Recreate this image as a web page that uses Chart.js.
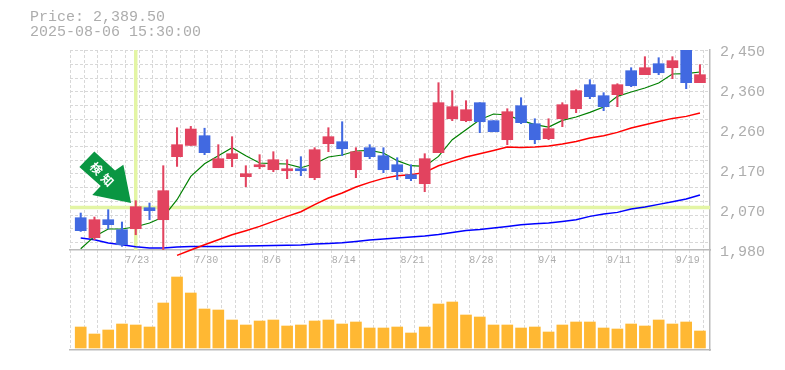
<!DOCTYPE html>
<html lang="ja">
<head>
<meta charset="utf-8">
<title>Price chart</title>
<script src="https://cdn.jsdelivr.net/npm/chart.js@4/dist/chart.umd.min.js"></script>
<style>
    html, body { margin: 0; padding: 0; background: #fff; }
    #wrap { position: relative; width: 785px; height: 370px; overflow: hidden; }
    #wrap canvas { position: absolute; left: 0; top: 0; }
    #info {
        position: absolute; left: 30px; top: 10px;
        font: 15px/15px 'Liberation Mono', monospace;
        color: #adadad; white-space: pre;
    }
</style>
</head>
<body>
<div id="wrap">
    <canvas id="chart-volume" width="785" height="360"></canvas>
    <canvas id="chart-price" width="785" height="280"></canvas>
    <div id="info">Price: 2,389.50
2025-08-06 15:30:00</div>
</div>
<script>
const dates = ['7/16', '7/17', '7/18', '7/22', '7/23', '7/24', '7/25', '7/28', '7/29', '7/30',
    '7/31', '8/1', '8/4', '8/5', '8/6', '8/7', '8/8', '8/12', '8/13', '8/14',
    '8/15', '8/18', '8/19', '8/20', '8/21', '8/22', '8/25', '8/26', '8/27', '8/28',
    '8/29', '9/1', '9/2', '9/3', '9/4', '9/5', '9/8', '9/9', '9/10', '9/11',
    '9/12', '9/16', '9/17', '9/18', '9/19', '9/22'];

const opens = [2055.9, 2008.9, 2051.2, 2027.7, 2030, 2079.4, 2051.2, 2199.3, 2225.8, 2248.6,
    2173.4, 2194.6, 2152.3, 2175.7, 2168.7, 2166.3, 2171, 2149.9, 2229.8, 2234.5,
    2168.7, 2220.4, 2201.6, 2180.4, 2156.9, 2135.8, 2208.7, 2288.5, 2283.9, 2326.2,
    2283.9, 2239.2, 2319.1, 2276.8, 2241.6, 2288.5, 2312, 2368.5, 2342.6, 2345,
    2401.4, 2392, 2417.8, 2408.4, 2450, 2373.2];
const closes = [2025.4, 2051.2, 2039.5, 1992.4, 2081.8, 2072.4, 2119.4, 2227.5, 2264.3, 2208.7,
    2194.6, 2206.3, 2159.3, 2180.4, 2192.2, 2171, 2166.3, 2215.7, 2246.3, 2218,
    2211, 2199.3, 2168.7, 2164, 2147.6, 2194.6, 2326.2, 2316.8, 2309.7, 2281.5,
    2258, 2305, 2279.2, 2239.2, 2265, 2321.5, 2354.4, 2340.3, 2316.8, 2368.5,
    2366.1, 2408.4, 2396.6, 2424.9, 2373.2, 2392];
const highs = [2066.9, 2057.5, 2074.7, 2045.8, 2095.9, 2090.4, 2178.1, 2267.4, 2270.5, 2266.2,
    2227.5, 2246.3, 2178.1, 2204, 2211, 2192.2, 2199.3, 2220.4, 2267.4, 2281.5,
    2220.4, 2227.5, 2220.4, 2196.9, 2180.4, 2206.3, 2373.2, 2354.4, 2330.9, 2326.2,
    2283.9, 2312, 2337.9, 2288.5, 2288.5, 2326.2, 2356.7, 2380.2, 2349.7, 2370.8,
    2408.4, 2434.3, 2431.9, 2434.3, 2450, 2415.5];
const lows = [2023.7, 2004.2, 2029.4, 1988.5, 2015.9, 2051.2, 1980, 2176.4, 2225.8, 2204,
    2173.4, 2175.7, 2128.7, 2171, 2164, 2147.6, 2154.6, 2145.2, 2211, 2201.6,
    2149.9, 2194.6, 2161.7, 2145.2, 2142.9, 2117, 2208.7, 2283.9, 2281.5, 2255.7,
    2258, 2227.5, 2276.8, 2229.8, 2239.2, 2269.8, 2302.7, 2335.6, 2307.4, 2316.8,
    2363.8, 2392, 2392, 2382.6, 2359.1, 2373.2];

const maShort = [1983.1, 2012, 2029.4, 2029.4, 2034.7, 2043.4, 2057.5, 2098.2, 2153, 2182.8,
    2201.6, 2220.4, 2201.6, 2184.4, 2182.8, 2182.1, 2173.4, 2182.8, 2198.5, 2203.2,
    2212.6, 2214, 2208, 2189.9, 2178.1, 2176.5, 2200, 2239.2, 2262.7, 2286.2,
    2299.6, 2297.3, 2284.6, 2274.5, 2269, 2284.6, 2292.6, 2303.4, 2316, 2341,
    2351.3, 2360.7, 2372.4, 2393.6, 2394.3, 2398.3];
const maMid = [null, null, null, null, null, null, null, 1967.3, 1980, 1992.5,
    2004.2, 2016, 2025.4, 2035.5, 2047.2, 2059, 2070, 2086.5, 2102.2, 2114,
    2128, 2138.9, 2148.3, 2154.6, 2157, 2162.4, 2178.1, 2188.2, 2198.5, 2206.3,
    2214, 2222, 2221, 2222, 2224.4, 2229.1, 2235.2, 2243.2, 2248.6, 2256.4,
    2266.7, 2274.5, 2282.2, 2289.3, 2294, 2302];
const maLong = [2008.2, 2004.2, 1996.4, 1992.4, 1987.8, 1984.7, 1984.7, 1987, 1988.4, 1988.4,
    1988.4, 1988.9, 1989.4, 1990.1, 1990.6, 1991.3, 1991.8, 1994.1, 1995.5, 1997.2,
    2000.2, 2003.5, 2005.8, 2008.2, 2010.6, 2012.9, 2016.7, 2021.4, 2026.1, 2028.4,
    2031.9, 2035.5, 2039.4, 2041.8, 2043.4, 2047.2, 2051.2, 2059, 2064.6, 2068.4,
    2076.4, 2081, 2087.2, 2093.5, 2099.8, 2109.2];

const volumes = [210, 140, 180, 240, 230, 210, 450, 710, 550, 390,
    380, 280, 230, 270, 280, 220, 230, 270, 280, 240,
    260, 200, 200, 210, 150, 210, 440, 460, 330, 310,
    230, 230, 200, 210, 160, 230, 260, 260, 200, 190,
    240, 220, 280, 240, 260, 170];

const priceTicks = [2450, 2356, 2262, 2168, 2074, 1980];
const gridLevels = [2448, 2416, 2384, 2352, 2320, 2287, 2255, 2223, 2191, 2159, 2126, 2094, 2062, 2030, 1998];

const signalIndex = 4;
const signalPrice = 2080;
const signalText = ['検', '知'];

const RED = '#e2435f';
const BLUE = '#4169e1';
const GRID = '#d8d8d8';
const AXIS = '#bbbbbb';
const LABEL = '#adadad';
const CROSS = '#e3f5a4';

// fixed band, the first and last candles do not sit half a step from the edges
const xMin = -0.778;
const xMax = 45.73;
const gridShift = 0.756;

const candleColors = closes.map((c, i) => c >= opens[i] ? RED : BLUE);

function points(values) {
    return values.map((v, i) => ({ x: i, y: v }));
}

function xScale(showLabels) {
    return {
        type: 'linear',
        offset: false,
        min: xMin,
        max: xMax,
        afterBuildTicks: scale => {
            const ticks = dates.map((d, i) => ({ value: i - gridShift }));
            ticks.push({ value: dates.length - gridShift });
            scale.ticks = ticks;
        },
        afterFit: scale => { if (showLabels) scale.height = 30; },
        grid: { offset: false, color: GRID, lineWidth: 1, drawTicks: false },
        border: { color: AXIS, width: 1.5, dash: [3, 2] },
        ticks: {
            display: showLabels,
            autoSkip: false,
            maxRotation: 0,
            align: 'start',
            padding: 4,
            color: LABEL,
            font: { family: "'Liberation Mono', monospace", size: 10 },
            callback: (value, index) => index % 5 === 4 && dates[index] ? dates[index] : ''
        }
    };
}

function lineSet(values, color, width, order) {
    return {
        type: 'line',
        data: points(values),
        borderColor: color,
        borderWidth: width,
        pointRadius: 0,
        tension: 0,
        order: order,
        clip: { left: 0, top: 0, right: 0, bottom: 8 }
    };
}

// green marker pointing at the signal candle, placed from the crosshair
const signalArrow = {
    id: 'signalArrow',
    afterDatasetsDraw(chart) {
        const ctx = chart.ctx;
        const px = chart.scales.x.getPixelForValue(signalIndex);
        const py = chart.scales.y.getPixelForValue(signalPrice);
        const shape = [[-41.4, -56], [-56.4, -40.4], [-35, -21.5], [-43.5, -12.5], [-4.7, -4.4],
            [-12.4, -42.7], [-20.7, -37]];
        ctx.save();
        ctx.fillStyle = '#0a9642';
        ctx.beginPath();
        shape.forEach((p, i) => i ? ctx.lineTo(px + p[0], py + p[1]) : ctx.moveTo(px + p[0], py + p[1]));
        ctx.closePath();
        ctx.fill();
        ctx.fillStyle = '#fff';
        ctx.font = "bold 12px 'Noto Sans CJK JP'";
        ctx.textAlign = 'center';
        ctx.textBaseline = 'middle';
        [[-39.4, -39], [-28.4, -27.4]].forEach((p, i) => {
            ctx.save();
            ctx.translate(px + p[0], py + p[1]);
            ctx.rotate(Math.PI / 4);
            ctx.fillText(signalText[i], 0, 0);
            ctx.restore();
        });
        ctx.restore();
    }
};

new Chart(document.getElementById('chart-price').getContext('2d'), {
    type: 'bar',
    data: {
        datasets: [
            {
                data: dates.map((d, i) => ({ x: i, y: [opens[i], closes[i]] })),
                backgroundColor: candleColors,
                barThickness: 11,
                grouped: false,
                minBarLength: 2,
                order: 1
            },
            {
                data: dates.map((d, i) => ({ x: i, y: [lows[i], highs[i]] })),
                backgroundColor: candleColors,
                barThickness: 1.4,
                grouped: false,
                order: 2
            },
            lineSet(maShort, '#008000', 1.2, 3),
            lineSet(maMid, '#ff0000', 1.5, 4),
            lineSet(maLong, '#0000ff', 1.5, 5),
            {
                type: 'line',
                data: [{ x: signalIndex, y: 1980 }, { x: signalIndex, y: 2450 }],
                borderColor: CROSS,
                borderWidth: 3.5,
                pointRadius: 0,
                order: 6
            },
            {
                type: 'line',
                data: [{ x: xMin, y: signalPrice }, { x: xMax, y: signalPrice }],
                borderColor: CROSS,
                borderWidth: 3.5,
                pointRadius: 0,
                order: 6
            }
        ]
    },
    options: {
        responsive: false,
        animation: false,
        layout: { padding: { left: 70, top: 50, right: 0, bottom: 0 } },
        plugins: { legend: { display: false }, tooltip: { enabled: false } },
        scales: {
            x: xScale(true),
            y: {
                position: 'right',
                min: 1980,
                max: 2450,
                afterBuildTicks: scale => {
                    scale.ticks = priceTicks.concat(gridLevels).map(v => ({ value: v }));
                },
                afterFit: scale => { scale.width = 75; },
                grid: {
                    drawTicks: false,
                    lineWidth: 1,
                    color: ctx => priceTicks.includes(ctx.tick.value) ? 'rgba(0,0,0,0)' : GRID
                },
                border: { color: AXIS, width: 1.5, dash: [3, 2] },
                ticks: {
                    autoSkip: false,
                    padding: 10,
                    labelOffset: 2.5,
                    color: LABEL,
                    font: { family: "'Liberation Mono', monospace", size: 15 },
                    callback: value => priceTicks.includes(value)
                        ? (Math.round(value / 10) * 10).toLocaleString('en-US')
                        : ''
                }
            }
        }
    },
    plugins: [signalArrow]
});

new Chart(document.getElementById('chart-volume').getContext('2d'), {
    type: 'bar',
    data: {
        datasets: [{
            data: points(volumes),
            backgroundColor: '#ffb833',
            barThickness: 11
        }]
    },
    options: {
        responsive: false,
        animation: false,
        layout: { padding: { left: 70, top: 250, right: 0, bottom: 10 } },
        plugins: { legend: { display: false }, tooltip: { enabled: false } },
        scales: {
            x: xScale(false),
            y: {
                position: 'right',
                min: -20,
                max: 980,
                afterFit: scale => { scale.width = 75; },
                grid: { display: false },
                border: { color: AXIS, width: 1.5 },
                ticks: { display: false }
            }
        }
    }
});
</script>
</body>
</html>
